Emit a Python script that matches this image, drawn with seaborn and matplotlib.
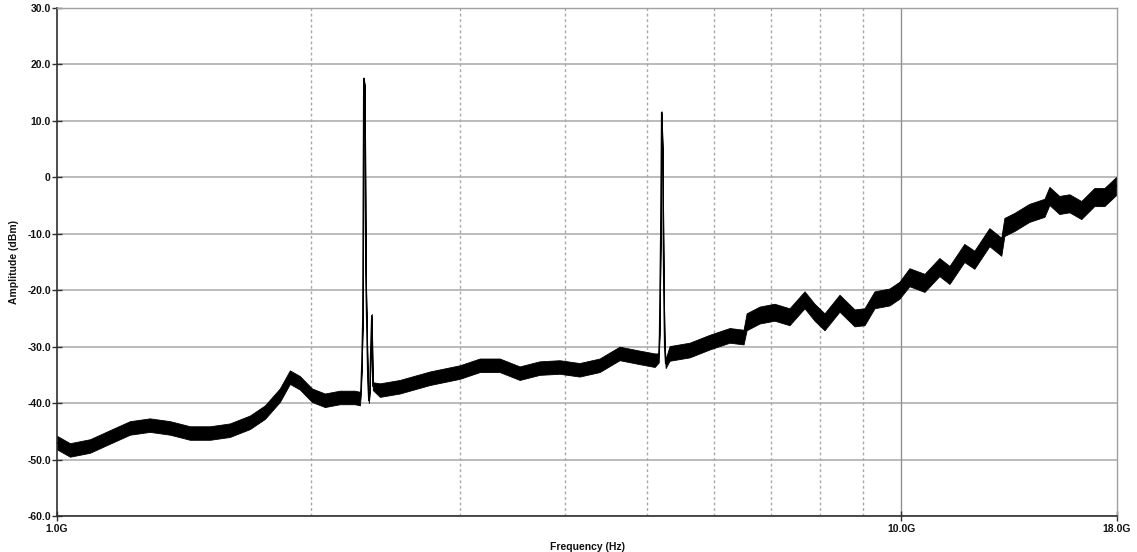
import matplotlib
matplotlib.use("Agg")
import matplotlib.pyplot as plt
from matplotlib.ticker import FixedLocator, FixedFormatter, MultipleLocator, NullFormatter
import seaborn as sns
import pandas as pd

# ---- data (GHz, dBm, noise half-width dB) ----
freq_ghz = [1.000, 1.036, 1.094, 1.155, 1.220, 1.288, 1.361, 1.437, 1.518, 1.602,
            1.692, 1.763, 1.836, 1.887, 1.939, 2.004, 2.076, 2.162, 2.253, 2.284,
            2.290, 2.296, 2.302, 2.308, 2.315, 2.321, 2.327, 2.334, 2.340, 2.346,
            2.353, 2.359, 2.366, 2.412, 2.546, 2.763, 2.999, 3.167, 3.344, 3.531,
            3.728, 3.937, 4.157, 4.391, 4.637, 4.897, 5.103, 5.159, 5.170, 5.187,
            5.200, 5.214, 5.229, 5.243, 5.257, 5.314, 5.612, 5.927, 6.259, 6.502,
            6.556, 6.792, 7.075, 7.370, 7.678, 7.890, 8.108, 8.446, 8.799, 9.042,
            9.292, 9.679, 9.946, 10.22, 10.65, 11.09, 11.40, 11.87, 12.20, 12.71,
            13.13, 13.24, 13.61, 14.17, 14.77, 14.97, 15.38, 15.81, 16.33, 16.92,
            17.39, 18.00]
amplitude_dbm = [-47.0, -48.3, -47.6, -46.0, -44.4, -43.9, -44.4, -45.3, -45.3, -44.8,
                 -43.4, -41.6, -38.6, -35.4, -36.4, -38.6, -39.5, -39.0, -39.0, -39.2,
                 -38.0, -33.0, -25.0, 17.5, 16.0, -17.0, -26.0, -36.0, -39.5, -38.0,
                 -30.0, -24.5, -37.0, -37.7, -37.1, -35.6, -34.5, -33.3, -33.3, -34.7,
                 -33.8, -33.6, -34.1, -33.3, -31.2, -31.9, -32.4, -32.0, -28.0, -10.0,
                 11.5, 5.0, -18.0, -30.0, -33.0, -31.2, -30.6, -29.2, -28.0, -28.3,
                 -25.6, -24.4, -23.9, -24.7, -21.7, -23.9, -25.6, -22.3, -24.9, -24.7,
                 -21.7, -21.2, -20.0, -17.7, -18.7, -15.9, -17.3, -13.4, -14.6, -10.6,
                 -12.3, -8.8, -7.9, -6.3, -5.4, -3.3, -4.9, -4.6, -5.8, -3.5,
                 -3.5, -1.4]
spread_db = [1.2, 1.2, 1.2, 1.2, 1.2, 1.2, 1.2, 1.2, 1.2, 1.2,
             1.2, 1.2, 1.2, 1.2, 1.2, 1.2, 1.2, 1.2, 1.2, 1.2,
             0.5, 0.3, 0.3, 0.2, 0.2, 0.3, 0.3, 0.3, 0.5, 0.5,
             0.3, 0.3, 0.7, 1.2, 1.2, 1.2, 1.2, 1.2, 1.2, 1.2,
             1.2, 1.2, 1.2, 1.2, 1.2, 1.2, 1.2, 0.8, 0.3, 0.3,
             0.2, 0.2, 0.3, 0.3, 0.8, 1.3, 1.3, 1.3, 1.3, 1.3,
             1.5, 1.5, 1.5, 1.5, 1.5, 1.5, 1.5, 1.5, 1.5, 1.5,
             1.5, 1.5, 1.5, 1.6, 1.6, 1.6, 1.6, 1.6, 1.6, 1.6,
             1.6, 1.6, 1.6, 1.6, 1.6, 1.6, 1.6, 1.6, 1.6, 1.6,
             1.6, 1.6]

y_major = [30, 20, 10, 0, -10, -20, -30, -40, -50, -60]
y_labels = ["30.0", "20.0", "10.0", "0", "-10.0", "-20.0", "-30.0", "-40.0", "-50.0", "-60.0"]
x_labeled = [1.0, 10.0, 18.0]
x_labels = ["1.0G", "10.0G", "18.0G"]
x_dotted = [2, 3, 4, 5, 6, 7, 8, 9]

df = pd.DataFrame({"freq": freq_ghz, "amp": amplitude_dbm, "spread": spread_db})
df["lo"] = df["amp"] - df["spread"]
df["hi"] = df["amp"] + df["spread"]

sns.set_theme(style="white")
plt.rcParams["font.family"] = ["Liberation Sans", "DejaVu Sans"]

fig = plt.figure(figsize=(11.37, 5.52), dpi=100)
ax = fig.add_axes([57 / 1137, 1 - 516 / 552, 1060 / 1137, 508 / 552])

# grid
for yv in y_major:
    ax.axhline(yv, color="#a8a8a8", lw=1.1, zorder=0)
for xv in x_dotted:
    ax.axvline(xv, color="#a8a8a8", lw=1.0, ls=(0, (2, 2)), zorder=0)
ax.axvline(10, color="#909090", lw=1.0, zorder=0)

ax.fill_between(df["freq"], df["lo"], df["hi"], color="black", lw=0.6, zorder=2)
sns.lineplot(data=df, x="freq", y="amp", color="black", lw=1.0, estimator=None,
             sort=False, ax=ax, zorder=3)

ax.set_xscale("log")
ax.set_xlim(1.0, 18.0)
ax.set_ylim(-60, 30)

ax.xaxis.set_major_locator(FixedLocator(x_labeled))
ax.xaxis.set_major_formatter(FixedFormatter(x_labels))
ax.xaxis.set_minor_locator(FixedLocator(x_dotted))
ax.xaxis.set_minor_formatter(NullFormatter())
ax.yaxis.set_major_locator(FixedLocator(y_major))
ax.yaxis.set_major_formatter(FixedFormatter(y_labels))
ax.yaxis.set_minor_locator(MultipleLocator(2.5))

ax.tick_params(axis="both", which="major", direction="inout", length=7, width=1,
               color="#303030", labelsize=7.5, pad=1)
ax.tick_params(axis="both", which="minor", direction="inout", length=5, width=1,
               color="#303030")
ax.tick_params(axis="x", which="major", pad=2)
ax.tick_params(left=True, bottom=True)
for lab in ax.get_xticklabels() + ax.get_yticklabels():
    lab.set_fontweight("bold")
    lab.set_color("#111111")

for s in ["left", "bottom"]:
    ax.spines[s].set_color("#303030")
    ax.spines[s].set_linewidth(1.2)
for s in ["top", "right"]:
    ax.spines[s].set_color("#a0a0a0")
    ax.spines[s].set_linewidth(1.0)

ax.set_xlabel("Frequency (Hz)", fontsize=7.5, fontweight="bold", color="#111111", labelpad=6)
ax.set_ylabel("Amplitude (dBm)", fontsize=7.5, fontweight="bold", color="#111111", labelpad=6)

fig.savefig("out.png", dpi=100)
